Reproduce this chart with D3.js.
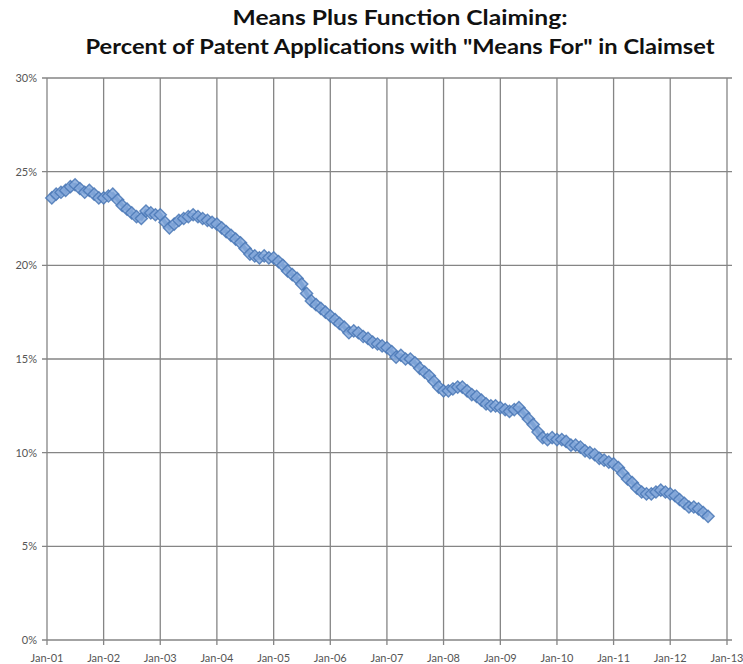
<!DOCTYPE html>
<html>
<head>
<meta charset="utf-8">
<script src="https://cdn.jsdelivr.net/npm/d3@7"></script>
<style>
  html, body { margin: 0; padding: 0; background: #fff; }
  #chart { width: 743px; height: 664px; }
</style>
</head>
<body>
<div id="chart"></div>
<script>
// Monthly share of applications with "means for" in the claims, Feb 2001 - Sep 2012
const firstMonth = new Date(2001, 1, 1);
const pctMeansFor = [
  23.6, 23.8, 23.9, 24.0, 24.2, 24.3, 24.1, 23.9, 24.0, 23.8, 23.6,             // 2001 (Feb-Dec)
  23.6, 23.7, 23.8, 23.5, 23.2, 23.0, 22.8, 22.6, 22.5, 22.9, 22.8, 22.7,       // 2002
  22.7, 22.3, 22.0, 22.2, 22.4, 22.5, 22.6, 22.7, 22.6, 22.5, 22.4, 22.3,       // 2003
  22.2, 22.0, 21.8, 21.6, 21.4, 21.2, 20.9, 20.6, 20.5, 20.4, 20.5, 20.4,       // 2004
  20.4, 20.2, 20.0, 19.7, 19.5, 19.3, 19.0, 18.5, 18.1, 17.9, 17.7, 17.5,       // 2005
  17.3, 17.1, 16.9, 16.7, 16.4, 16.5, 16.4, 16.2, 16.1, 15.9, 15.8, 15.7,       // 2006
  15.6, 15.4, 15.1, 15.2, 15.0, 15.0, 14.8, 14.5, 14.3, 14.1, 13.8, 13.5,       // 2007
  13.3, 13.3, 13.4, 13.5, 13.5, 13.3, 13.1, 13.0, 12.8, 12.6, 12.5, 12.5,       // 2008
  12.4, 12.3, 12.2, 12.3, 12.4, 12.1, 11.8, 11.5, 11.1, 10.8, 10.7, 10.8,       // 2009
  10.7, 10.7, 10.6, 10.4, 10.4, 10.3, 10.1, 10.0, 9.9, 9.7, 9.6, 9.5,           // 2010
  9.4, 9.2, 8.9, 8.6, 8.4, 8.1, 7.9, 7.8, 7.8, 7.9, 8.0, 7.9,                   // 2011
  7.8, 7.7, 7.5, 7.3, 7.1, 7.1, 7.0, 6.8, 6.6                                   // 2012 (Jan-Sep)
];
const yTicks = [0, 5, 10, 15, 20, 25, 30];
const titleLines = ["Means Plus Function Claiming:", "Percent of Patent Applications with \"Means For\" in Claimset"];

const data = pctMeansFor.map((v, i) => ({ date: d3.timeMonth.offset(firstMonth, i), value: v }));

const W = 743, H = 664;
const plot = { left: 47, right: 727, top: 78, bottom: 640 };

const svg = d3.select("#chart").append("svg")
  .attr("width", W).attr("height", H);

const x = d3.scaleTime()
  .domain([new Date(2001, 0, 1), new Date(2013, 0, 1)])
  .range([plot.left, plot.right]);
const y = d3.scaleLinear().domain([0, 30]).range([plot.bottom, plot.top]);

const xTicks = d3.timeYear.range(new Date(2001, 0, 1), new Date(2013, 0, 2));
const fmt = d3.timeFormat("%b-%y");

// Horizontal gridlines
svg.append("g")
  .selectAll("line")
  .data(yTicks)
  .join("line")
  .attr("x1", plot.left - 5).attr("x2", plot.right + 5)
  .attr("y1", (d) => y(d)).attr("y2", (d) => y(d))
  .attr("stroke", "#858585").attr("stroke-width", 1.3);

// Vertical gridlines
svg.append("g")
  .selectAll("line")
  .data(xTicks)
  .join("line")
  .attr("x1", (d) => x(d)).attr("x2", (d) => x(d))
  .attr("y1", plot.top).attr("y2", plot.bottom + 5)
  .attr("stroke", "#858585").attr("stroke-width", 1.3);

// Y labels
svg.append("g")
  .selectAll("text")
  .data(yTicks)
  .join("text")
  .attr("x", plot.left - 10)
  .attr("y", (d) => y(d))
  .attr("dy", "0.35em")
  .attr("text-anchor", "end")
  .attr("font-family", "Lato, 'Open Sans', sans-serif")
  .attr("font-size", "11px")
  .attr("fill", "#555")
  .text((d) => d + "%");

// X labels
svg.append("g")
  .selectAll("text")
  .data(xTicks)
  .join("text")
  .attr("x", (d) => x(d))
  .attr("y", plot.bottom + 22)
  .attr("text-anchor", "middle")
  .attr("font-family", "Lato, 'Open Sans', sans-serif")
  .attr("font-size", "11px")
  .attr("fill", "#555")
  .text((d) => fmt(d));

// Series line
const line = d3.line().x((d) => x(d.date)).y((d) => y(d.value));
svg.append("path")
  .datum(data)
  .attr("d", line)
  .attr("fill", "none")
  .attr("stroke", "#4a7ebb")
  .attr("stroke-width", 4);

// Diamond markers
const diamond = d3.symbol().type(d3.symbolDiamond2).size(95);
svg.append("g")
  .selectAll("path")
  .data(data)
  .join("path")
  .attr("transform", (d) => `translate(${x(d.date)},${y(d.value)})`)
  .attr("d", diamond)
  .attr("fill", "#86a9da")
  .attr("fill-opacity", 0.85)
  .attr("stroke", "#4a78b6")
  .attr("stroke-width", 1.4)
  .attr("stroke-opacity", 0.85);

// Title
const titleWidths = [335, 629];
svg.append("g")
  .selectAll("text")
  .data(titleLines)
  .join("text")
  .attr("x", 400)
  .attr("y", (d, i) => 25 + i * 29)
  .attr("text-anchor", "middle")
  .attr("font-family", "Lato, 'Open Sans', sans-serif")
  .attr("font-weight", "bold")
  .attr("font-size", "21px")
  .attr("fill", "#111")
  .attr("textLength", (d, i) => titleWidths[i])
  .attr("lengthAdjust", "spacingAndGlyphs")
  .text((d) => d);
</script>
</body>
</html>
